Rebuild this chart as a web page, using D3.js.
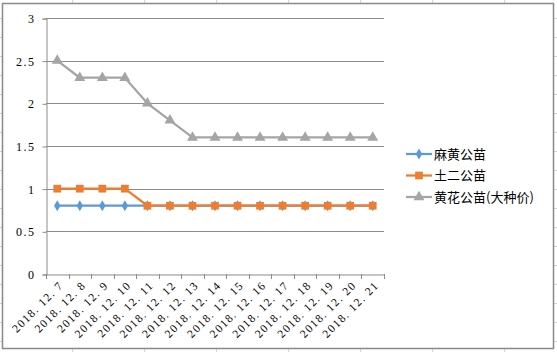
<!DOCTYPE html>
<html><head><meta charset="utf-8">
<script src="https://cdn.jsdelivr.net/npm/d3@7"></script>
<style>body{margin:0;background:#fff}svg{display:block}</style>
</head><body>
<script>
const categories = ["2018. 12. 7","2018. 12. 8","2018. 12. 9","2018. 12. 10","2018. 12. 11","2018. 12. 12","2018. 12. 13","2018. 12. 14","2018. 12. 15","2018. 12. 16","2018. 12. 17","2018. 12. 18","2018. 12. 19","2018. 12. 20","2018. 12. 21"];
const seriesNames = ["麻黄公苗","土二公苗","黄花公苗(大种价)"];
const mahuang = [0.8,0.8,0.8,0.8,0.8,0.8,0.8,0.8,0.8,0.8,0.8,0.8,0.8,0.8,0.8];
const tuer = [1,1,1,1,0.8,0.8,0.8,0.8,0.8,0.8,0.8,0.8,0.8,0.8,0.8];
const huanghua = [2.5,2.3,2.3,2.3,2.0,1.8,1.6,1.6,1.6,1.6,1.6,1.6,1.6,1.6,1.6];
const yTicks = [0,0.5,1,1.5,2,2.5,3];
const colors = ["#5B9BD5","#ED7D31","#A5A5A5"];
const symbols = [d3.symbolDiamond, d3.symbolSquare, d3.symbolTriangle];
const symSizes = [36, 60, 52];

const W = 557, H = 352;
const svg = d3.select("body").append("svg").attr("width", W).attr("height", H);

// spreadsheet background grid
const bg = svg.append("g").attr("stroke", "#d0d0e4").attr("stroke-width", 1);
for (let x = 72; x < W; x += 72) bg.append("line").attr("x1", x + 0.5).attr("x2", x + 0.5).attr("y1", 0).attr("y2", H);
for (let y = 18; y < H; y += 19) bg.append("line").attr("x1", 0).attr("x2", W).attr("y1", y + 0.5).attr("y2", y + 0.5);

// chart area
svg.append("rect").attr("x", 2.5).attr("y", 3.5).attr("width", 551).attr("height", 345)
  .attr("fill", "#fff").attr("stroke", "#898989").attr("stroke-width", 1.5);

const x = d3.scaleBand().domain(categories).range([46, 384]);
const y = d3.scaleLinear().domain([0, 3]).range([274, 18]);

// gridlines
svg.append("g").selectAll("line").data(yTicks.filter(t => t > 0)).join("line")
  .attr("x1", 46).attr("x2", 384)
  .attr("y1", d => Math.round(y(d)) + 0.5).attr("y2", d => Math.round(y(d)) + 0.5)
  .attr("stroke", "#8c8c8c").attr("stroke-width", 1);

// y axis
const yAxis = svg.append("g").attr("transform", "translate(46.5,0.5)")
  .call(d3.axisLeft(y).tickValues(yTicks).tickFormat(d3.format("")).tickSize(4).tickPadding(7));
yAxis.select(".domain").attr("stroke", "#8c8c8c");
yAxis.selectAll(".tick line").attr("stroke", "#8c8c8c");
yAxis.selectAll("text").attr("font-family", "'Liberation Serif', serif").attr("font-size", 12)
  .attr("letter-spacing", 1.5).attr("fill", "#000");

// x axis
const xAxis = svg.append("g").attr("transform", "translate(0.5,274.5)")
  .call(d3.axisBottom(x).tickSize(0).tickFormat(""));
xAxis.select(".domain").attr("stroke", "#8c8c8c");
const bounds = categories.map(c => x(c)).concat([x.range()[1]]);
svg.append("g").selectAll("line").data(bounds).join("line")
  .attr("x1", d => Math.round(d) + 0.5).attr("x2", d => Math.round(d) + 0.5)
  .attr("y1", 274).attr("y2", 279).attr("stroke", "#8c8c8c");
svg.append("g").selectAll("text").data(categories).join("text")
  .attr("transform", d => `translate(${x(d) + x.bandwidth() / 2 + 4},${283}) rotate(-45)`)
  .attr("text-anchor", "end").attr("dy", "0.35em")
  .attr("font-family", "'Liberation Serif', 'DejaVu Serif', serif").attr("font-size", 11.5)
  .attr("letter-spacing", 1.4).attr("fill", "#000")
  .text(d => d);

// series
const allSeries = [mahuang, tuer, huanghua];
const line = d3.line().x((d, i) => x(categories[i]) + x.bandwidth() / 2).y(d => y(d));
allSeries.forEach((vals, k) => {
  svg.append("path").datum(vals).attr("d", line).attr("fill", "none")
    .attr("stroke", colors[k]).attr("stroke-width", 2.25).attr("stroke-linejoin", "round");
  svg.append("g").selectAll("path").data(vals).join("path")
    .attr("d", d3.symbol().type(symbols[k]).size(symSizes[k]))
    .attr("transform", (d, i) => `translate(${x(categories[i]) + x.bandwidth() / 2},${y(d)})`)
    .attr("fill", colors[k]);
});

// legend
const lg = svg.append("g");
seriesNames.forEach((name, k) => {
  const ly = 154 + k * 21.5;
  lg.append("line").attr("x1", 406).attr("x2", 432).attr("y1", ly).attr("y2", ly)
    .attr("stroke", colors[k]).attr("stroke-width", 2.25);
  lg.append("path").attr("d", d3.symbol().type(symbols[k]).size(symSizes[k]))
    .attr("transform", `translate(419,${ly})`).attr("fill", colors[k]);
  lg.append("text").attr("x", 434).attr("y", ly).attr("dy", "0.36em")
    .attr("font-family", "'Noto Sans CJK SC', sans-serif").attr("font-size", 13).attr("fill", "#000")
    .text(name);
});
</script>
</body></html>
